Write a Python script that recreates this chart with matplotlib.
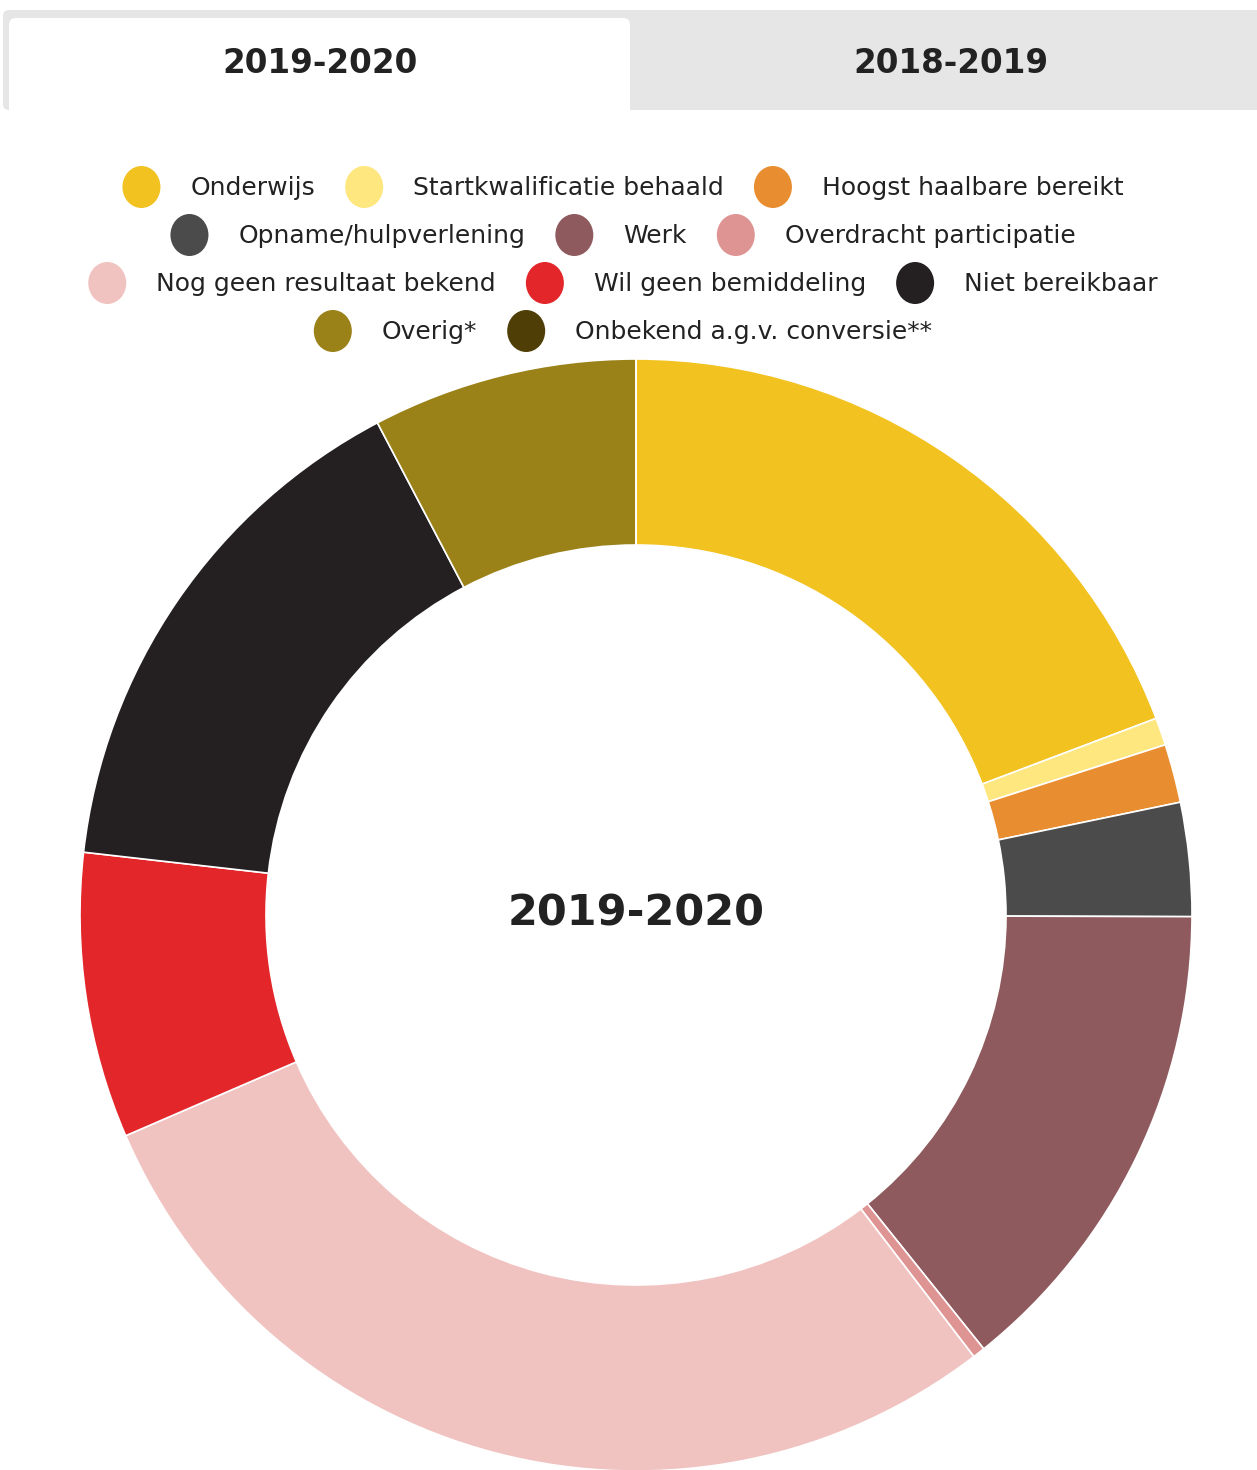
import matplotlib
matplotlib.use("Agg")
import matplotlib.pyplot as plt
from matplotlib.patches import Ellipse, FancyBboxPatch, Rectangle

W, H = 1257, 1470

categories = ["Onderwijs", "Startkwalificatie behaald", "Hoogst haalbare bereikt",
              "Opname/hulpverlening", "Werk", "Overdracht participatie",
              "Nog geen resultaat bekend", "Wil geen bemiddeling", "Niet bereikbaar",
              "Overig*", "Onbekend a.g.v. conversie**"]
values = [19.25, 0.8, 1.7, 3.3, 14.2, 0.36, 28.9, 8.3, 15.5, 7.7, 0.0]
colors = ["#F2C220", "#FEE77F", "#E98D31", "#4B4B4B", "#8E5A5E", "#DE9492",
          "#F0C3C1", "#E3262A", "#242022", "#9A8118", "#4F3F06"]
tabs = ["2019-2020", "2018-2019"]
center_title = "2019-2020"

plt.rcParams['font.family'] = ['DejaVu Sans']
fig = plt.figure(figsize=(W / 100, H / 100), dpi=100)
fig.patch.set_facecolor("white")

# Pie axes (pixel units, y up)
axp = fig.add_axes([0, 0, 1, 1])
cx, cy, R, ring = 636, H - 915, 556, 186
axp.pie(values, colors=colors, startangle=90, counterclock=False,
        center=(cx, cy), radius=R,
        wedgeprops=dict(width=ring, edgecolor="white", linewidth=1.2))
axp.set_xlim(0, W)
axp.set_ylim(0, H)
axp.set_aspect("auto")
axp.axis("off")
axp.text(cx, cy + 2, center_title, ha="center", va="center",
         fontsize=31, fontweight="bold", color="#222222")

# Overlay axes for tabs and legend (pixel units, y down)
ax = fig.add_axes([0, 0, 1, 1], facecolor="none")
ax.set_xlim(0, W)
ax.set_ylim(H, 0)
ax.axis("off")

# tabs
ax.add_patch(FancyBboxPatch((3, 10), W + 20, 100, boxstyle="round,pad=0,rounding_size=6",
                            facecolor="#E6E6E6", edgecolor="none"))
ax.add_patch(FancyBboxPatch((9, 18), 621, 110, boxstyle="round,pad=0,rounding_size=7",
                            facecolor="white", edgecolor="none"))
ax.add_patch(Rectangle((0, 110), W, 40, facecolor="white", edgecolor="none"))
ax.text(320, 63, tabs[0], ha="center", va="center", fontsize=23.5,
        fontweight="bold", color="#222222")
ax.text(951, 63, tabs[1], ha="center", va="center", fontsize=23.5,
        fontweight="bold", color="#222222")

# legend (flow layout)
fs = 18.0
renderer = fig.canvas.get_renderer()
widths = []
for c in categories:
    t = ax.text(0, 0, c, fontsize=fs)
    bb = t.get_window_extent(renderer=renderer)
    widths.append(bb.width)
    t.remove()

lead, trail, maxw = 68, 30, 1150
rows, cur, curw = [], [], 0
for i, w in enumerate(widths):
    iw = lead + w + trail
    if cur and curw + iw > maxw:
        rows.append((cur, curw))
        cur, curw = [], 0
    cur.append(i)
    curw += iw
rows.append((cur, curw))

y0, dy = 187, 48
for r, (items, rw) in enumerate(rows):
    x = 638 - rw / 2
    y = y0 + r * dy
    for i in items:
        ax.add_patch(Ellipse((x + 19, y), 38, 42, facecolor=colors[i], edgecolor="none"))
        ax.text(x + lead, y + 1, categories[i], ha="left", va="center",
                fontsize=fs, color="#222222")
        x += lead + widths[i] + trail

fig.savefig("out.png", dpi=100, facecolor="white")
